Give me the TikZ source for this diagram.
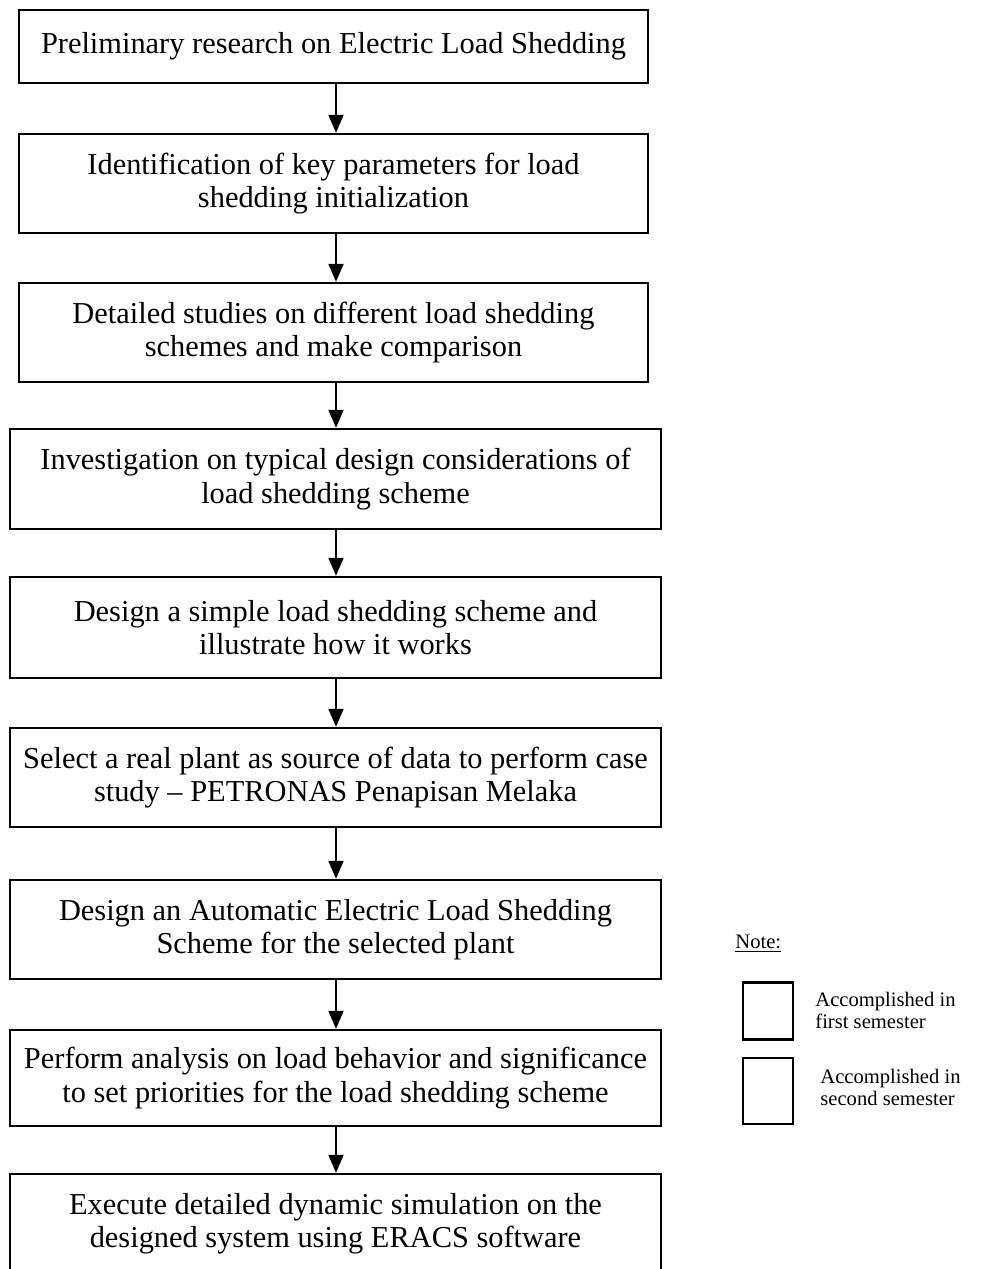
\documentclass[tikz,border=0pt]{standalone}
\usepackage{fontspec}
\setmainfont{Liberation Serif}
\usetikzlibrary{arrows.meta}
\begin{document}
\begin{tikzpicture}[x=0.5pt,y=-0.5pt,
  stepbox/.style={draw,line width=1.2pt,rectangle,align=center,fill=white,
    font=\fontsize{15.2}{16.6}\selectfont,inner sep=0pt},
  arr/.style={line width=1pt,-{Triangle[length=9pt,width=7.5pt]}},
  legbox/.style={draw,line width=1.1pt,rectangle,inner sep=0pt,minimum width=25pt},
  legtext/.style={font=\fontsize{10.3}{11}\selectfont,align=left,anchor=west,inner sep=0pt}]
\useasboundingbox (0,0) rectangle (1001,1269);
\clip (0,0) rectangle (1001,1269);
\fill[white] (0,0) rectangle (1001,1269);

\node[stepbox,minimum width={629*0.5pt},minimum height={73*0.5pt}] (b1) at (333.5,46.5)
  {Preliminary research on Electric Load Shedding};
\node[stepbox,minimum width={629*0.5pt},minimum height={99*0.5pt}] (b2) at (333.5,183.5)
  {Identification of key parameters for load\\shedding initialization};
\node[stepbox,minimum width={629*0.5pt},minimum height={99*0.5pt}] (b3) at (333.5,332.5)
  {Detailed studies on different load shedding\\schemes and make comparison};
\node[stepbox,minimum width={651*0.5pt},minimum height={100*0.5pt}] (b4) at (335.5,479)
  {Investigation on typical design considerations of\\load shedding scheme};
\node[stepbox,minimum width={651*0.5pt},minimum height={101*0.5pt}] (b5) at (335.5,627.5)
  {Design a simple load shedding scheme and\\illustrate how it works};
\node[stepbox,minimum width={651*0.5pt},minimum height={99*0.5pt}] (b6) at (335.5,777.5)
  {Select a real plant as source of data to perform case\\study -- PETRONAS Penapisan Melaka};
\node[stepbox,minimum width={651*0.5pt},minimum height={99*0.5pt}] (b7) at (335.5,929.5)
  {Design an Automatic Electric Load Shedding\\Scheme for the selected plant};
\node[stepbox,minimum width={651*0.5pt},minimum height={96*0.5pt}] (b8) at (335.5,1078)
  {Perform analysis on load behavior and significance\\to set priorities for the load shedding scheme};
\node[stepbox,minimum width={651*0.5pt},minimum height={100*0.5pt}] (b9) at (335.5,1224)
  {Execute detailed dynamic simulation on the\\designed system using ERACS software};

\coordinate (ax) at (336,0);
\foreach \a/\b in {b1/b2,b2/b3,b3/b4,b4/b5,b5/b6,b6/b7,b7/b8,b8/b9}
  \draw[arr] (\a.south -| ax) -- (\b.north -| ax);

\node[legtext] (note) at (735,944) {\underline{Note:}};
\node[legbox,minimum height=28.5pt] (l1) at (768,1011) {};
\node[legtext] (t1) at (815,1010) {Accomplished in\\first semester};
\node[legbox,minimum height=33pt] (l2) at (768,1091) {};
\node[legtext] (t2) at (820,1087) {Accomplished in\\second semester};
\end{tikzpicture}
\end{document}
